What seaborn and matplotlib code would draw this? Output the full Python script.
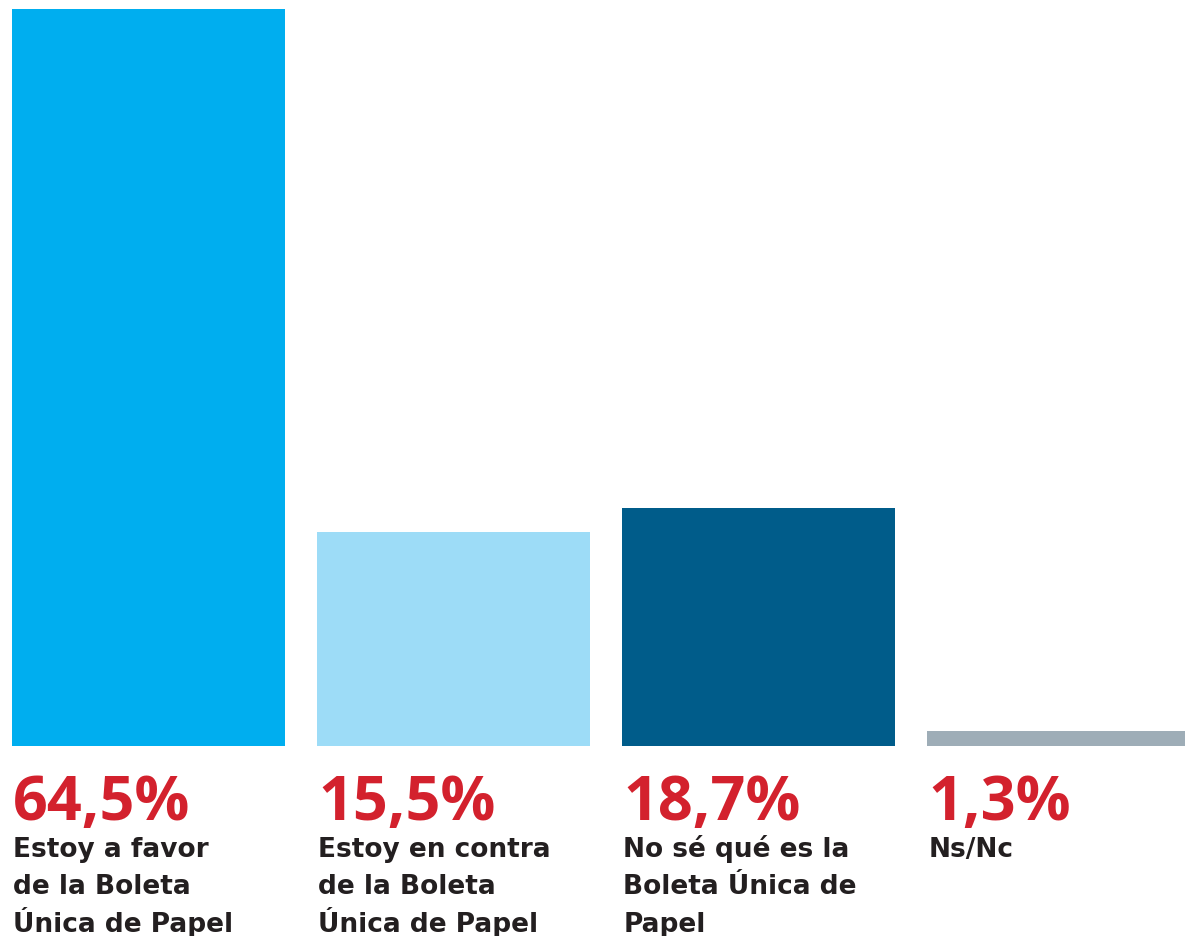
import matplotlib
matplotlib.use("Agg")
import matplotlib.pyplot as plt
import matplotlib.transforms as mtransforms
import seaborn as sns
import pandas as pd

# Data
categories = ["Estoy a favor\nde la Boleta\nÚnica de Papel",
              "Estoy en contra\nde la Boleta\nÚnica de Papel",
              "No sé qué es la\nBoleta Única de\nPapel",
              "Ns/Nc"]
percent_labels = ["64,5%", "15,5%", "18,7%", "1,3%"]
bar_heights = [64.5, 18.7, 20.8, 1.3]   # heights as drawn in the reference
bar_colors = ["#00AEEF", "#9DDCF7", "#005C8A", "#9EADB7"]

df = pd.DataFrame({"cat": categories, "value": bar_heights})

sns.set_theme(style="white")
plt.rcParams['font.family'] = ['Open Sans', 'DejaVu Sans']

W, H = 1185, 937
fig = plt.figure(figsize=(W / 100, H / 100), dpi=100)
ax = fig.add_axes([0, (H - 747) / H, 1, 737 / H])

sns.barplot(data=df, x="cat", y="value", hue="cat", palette=bar_colors,
            width=0.895, legend=False, ax=ax, saturation=1, linewidth=0)

ax.set_xlim(-0.487, 3.398)
ax.set_ylim(0, 64.5)
ax.axis("off")

trans = mtransforms.blended_transform_factory(ax.transData, fig.transFigure)
for i, (pl, cat) in enumerate(zip(percent_labels, categories)):
    left = i - 0.895 / 2 + 0.004
    ax.text(left, 1 - 820 / H, pl, transform=trans, ha="left", va="baseline",
            fontsize=44, fontweight="bold", color="#D3212D")
    for j, line in enumerate(cat.split("\n")):
        ax.text(left, 1 - (857 + 37.5 * j) / H, line, transform=trans,
                ha="left", va="baseline", fontsize=19, fontweight="bold",
                color="#231F20", family=["DejaVu Sans"])

fig.savefig("out.png", dpi=100)
